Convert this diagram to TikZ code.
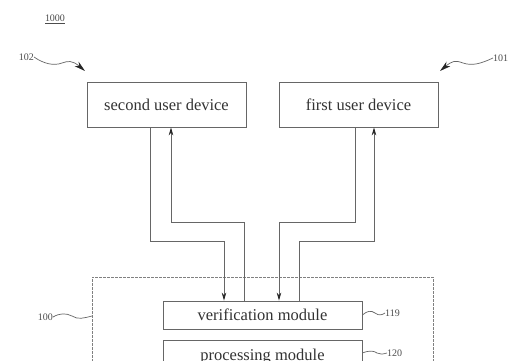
\documentclass[tikz,border=0pt]{standalone}
\usepackage{fontspec}
\setmainfont{Liberation Serif}
\usetikzlibrary{arrows.meta}
\begin{document}
\begin{tikzpicture}[x=1pt,y=-1pt,
  box/.style={draw=black!60, line width=0.8pt, inner sep=0pt, font=\fontsize{16.5}{18}\selectfont, text=black!80},
  outerbox/.style={draw=black!50, line width=0.7pt, dash pattern=on 3pt off 1pt},
  conn/.style={draw=black!60, line width=0.8pt},
  arr/.style={conn, -{Stealth[length=8pt,width=4.5pt,color=black!85]}},
  lbl/.style={font=\fontsize{10}{12}\selectfont, text=black!70, inner sep=0pt},
  lead/.style={draw=black!60, line width=0.7pt},
  leadarr/.style={lead, -{Stealth[length=11pt,width=6pt,color=black!85]}}
]
\useasboundingbox (0,0) rectangle (525,361);
\clip (0,0) rectangle (525,361);
\fill[white] (0,0) rectangle (525,361);

% nodes
\node[box, minimum width=159pt, minimum height=45pt] (sud) at (166.5,104.5) {second user device};
\node[box, minimum width=159pt, minimum height=45pt] (fud) at (358.5,104.5) {first user device};
\draw[outerbox] (92,390) -- (92,277) -- (433,277) -- (433,390);
\coordinate (outL) at (92,316);
\node[box, minimum width=199pt, minimum height=28pt] (ver) at (262.5,315) {verification module};
\node[box, minimum width=199pt, minimum height=40pt, anchor=north] (proc) at (262.5,340) {};
\node[font=\fontsize{16.5}{18}\selectfont, text=black!80, anchor=base, inner sep=0pt] (proctext) at (262.5,360) {processing module};

% labels
\node[lbl] (l1000) at (55,19) {\underline{1000}};
\node[lbl, anchor=east] (l102) at (34,57) {102};
\node[lbl, anchor=west] (l101) at (493,58) {101};
\node[lbl, anchor=east] (l100) at (53,317) {100};
\node[lbl, anchor=west] (l119) at (385,313) {119};
\node[lbl, anchor=west] (l120) at (387,353) {120};

% leader lines
\draw[leadarr] (l102.east) .. controls (44,64) and (54,66) .. (62,63) .. controls (68,61) and (72,60) .. (85,71);
\draw[leadarr] (l101.west) .. controls (480,64) and (472,66) .. (463,63) .. controls (455,60) and (452,61) .. (440,71);
\draw[lead] (l100.east) .. controls (60,313) and (66,313) .. (72,316) .. controls (78,320) and (84,318) .. (outL);
\draw[lead] (ver.east) .. controls (367,311) and (371,310) .. (375,313) .. controls (379,316) and (382,315) .. (l119.west);
\draw[lead] (proc.east |- l120) .. controls (370,350) and (374,351) .. (377,353) .. controls (380,355) and (383,354) .. (l120.west);

% connectors
\coordinate (a1) at (150,0);
\coordinate (b1) at (224,241);
\coordinate (a2) at (171,0);
\coordinate (b2) at (244,222);
\coordinate (a3) at (355,0);
\coordinate (b3) at (279,222);
\coordinate (a4) at (374,0);
\coordinate (b4) at (299,241);

\draw[arr] (sud.south -| a1) |- (b1) -- (b1 |- ver.north);
\draw[arr] (b2 |- ver.north) -- (b2) -| (sud.south -| a2);
\draw[arr] (fud.south -| a3) |- (b3) -- (b3 |- ver.north);
\draw[arr] (b4 |- ver.north) -- (b4) -| (fud.south -| a4);
\end{tikzpicture}
\end{document}
